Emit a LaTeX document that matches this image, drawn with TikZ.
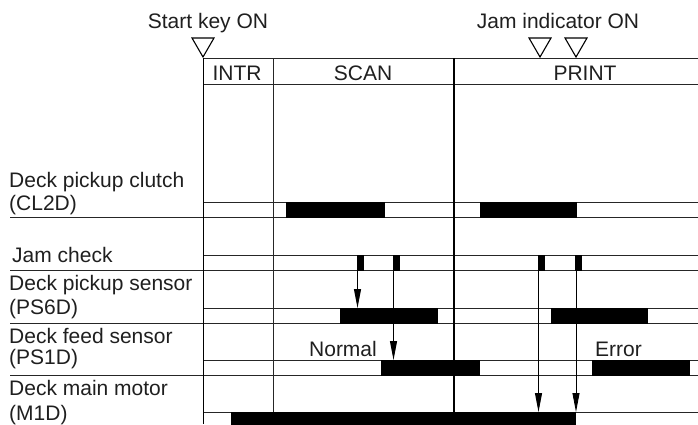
\documentclass[tikz,border=0pt]{standalone}
\usepackage{fontspec}
\setmainfont{Liberation Sans}
\usetikzlibrary{arrows.meta}
\begin{document}
\begin{tikzpicture}[x=1pt,y=-1pt,
  lbl/.style={font=\fontsize{21}{25}\selectfont, inner sep=0pt, anchor=base west, text=black!88},
  hdr/.style={font=\fontsize{21}{25}\selectfont, inner sep=0pt, anchor=base, text=black!88},
  ln/.style={line width=1pt, draw=black!85},
  vln/.style={line width=1.1pt, draw=black},
  pulse/.style={fill=black},
  trig/.style={line width=1.1pt, line join=miter},
  arr/.style={line width=0.9pt, -{Triangle[length=19pt,width=7pt]}}
]
\useasboundingbox (0,0) rectangle (698,424);

% top texts and triangles
\node[hdr] (start) at (208,28) {Start key ON};
\node[hdr] (jam) at (558,28) {Jam indicator ON};
\draw[trig] (192,38) -- (214,38) -- (203,57) -- cycle;
\draw[trig] (529,38) -- (551,38) -- (540,57) -- cycle;
\draw[trig] (565,38) -- (587,38) -- (576,57) -- cycle;

% header
\draw[ln] (203,58) -- (698,58);
\draw[ln] (203,84) -- (698,84);
\node[hdr] (intr) at (237,80) {INTR};
\node[hdr] (scan) at (363,80) {SCAN};
\node[hdr] (print) at (585,80) {PRINT};

% row labels
\node[lbl] (l1a) at (9,187) {Deck pickup clutch};
\node[lbl] (l1b) at (9,210) {(CL2D)};
\node[lbl] (l2) at (12,262) {Jam check};
\node[lbl] (l3a) at (9,290) {Deck pickup sensor};
\node[lbl] (l3b) at (9,314) {(PS6D)};
\node[lbl] (l4a) at (9,343) {Deck feed sensor};
\node[lbl] (l4b) at (9,364) {(PS1D)};
\node[lbl] (l5a) at (9,395) {Deck main motor};
\node[lbl] (l5b) at (9,420) {(M1D)};

% band lines
\foreach \t in {202,255,308,360} \draw[ln] (203,\t) -- (698,\t);
\foreach \b in {217,270,323,375} \draw[ln] (10,\b) -- (698,\b);
\draw[ln] (203,412.5) -- (698,412.5);

% vertical lines
\draw[vln] (203.5,58) -- (203.5,424);
\draw[ln] (273,58) -- (273,424);
\draw[vln] (454,58) -- (454,424);

% pulses
% clutch
\fill[pulse] (286,201.5) rectangle (385,217.5);
\fill[pulse] (480,201.5) rectangle (577,217.5);
% jam check
\fill[pulse] (357,254.5) rectangle (364,270.5);
\fill[pulse] (393,254.5) rectangle (400,270.5);
\fill[pulse] (538,254.5) rectangle (545,270.5);
\fill[pulse] (575,254.5) rectangle (582,270.5);
% PS6D
\fill[pulse] (340,307.5) rectangle (438,323.5);
\fill[pulse] (551,307.5) rectangle (648,323.5);
% PS1D
\fill[pulse] (381,359.5) rectangle (480,375.5);
\fill[pulse] (592,359.5) rectangle (690,375.5);
% motor
\fill[pulse] (231,412) rectangle (576,430);

% labels in chart
\node[hdr] (normal) at (343,356) {Normal};
\node[hdr] (error) at (618.5,356) {Error};

% arrows
\coordinate (j1) at (357.5,270);
\coordinate (j2) at (393.5,270);
\coordinate (j3) at (538.5,270);
\coordinate (j4) at (576,270);
\coordinate (t1) at (357.5,308);
\coordinate (t2) at (393.5,360);
\coordinate (t3) at (538.5,412);
\coordinate (t4) at (576,412);
\draw[arr] (j1) -- (t1);
\draw[arr] (j2) -- (t2);
\draw[arr] (j3) -- (t3);
\draw[arr] (j4) -- (t4);
\end{tikzpicture}
\end{document}
